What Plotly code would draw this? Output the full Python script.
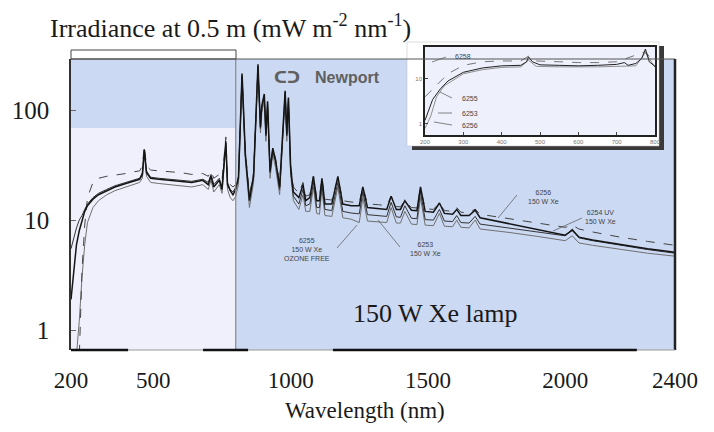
import math
import plotly.graph_objects as go

# ---------------- data ----------------
wavelength_nm = [200, 210, 220, 230, 240, 250, 260, 280, 300, 330,
                 360, 400, 430, 450, 460, 467, 475, 490, 520, 560,
                 600, 640, 680, 700, 710, 720, 740, 750, 764, 770,
                 780, 790, 800, 810, 823, 835, 850, 865, 881, 890,
                 895, 904, 910, 916, 925, 935, 945, 960, 980, 986,
                 992, 1000, 1010, 1030, 1045, 1055, 1070, 1083, 1095, 1105,
                 1114, 1125, 1150, 1172, 1190, 1220, 1250, 1263, 1280, 1320,
                 1350, 1366, 1385, 1400, 1416, 1440, 1460, 1473, 1490, 1520,
                 1542, 1560, 1590, 1605, 1620, 1650, 1672, 1690, 1730, 1800,
                 1900, 2000, 2026, 2050, 2100, 2200, 2300, 2400]

irr_6253 = [1.9, 3.5, 6, 8, 10, 12, 13.5, 15.5, 17, 18.5,
            20, 21.5, 22.5, 23.5, 26, 44, 27, 24, 23.5, 23,
            22.5, 22, 23, 21, 25, 20, 23, 19, 52, 21,
            18.5, 17, 19, 24, 215, 40, 15, 25, 260, 70,
            110, 140, 60, 120, 28, 45, 35, 20, 150, 60,
            130, 30, 18, 16, 21, 15, 16, 25, 15, 15,
            24, 14, 14, 25, 14, 13.5, 13.5, 20, 13, 12.8,
            12.5, 16.5, 12.5, 12.5, 15, 12.3, 12.2, 20, 12, 11.8,
            14.3, 11.5, 11.3, 12.5, 11, 11, 12.3, 10.5, 10, 9.2,
            8.2, 7.3, 8.1, 7, 6.6, 6, 5.5, 5.1]

irr_6256 = [0.2, 0.25, 0.35, 0.55, 3.5, 9, 16, 22, 24, 25,
            25.5, 26.5, 27.5, 28, 31, 47, 31, 28.5, 28, 27.5,
            27, 26, 26.5, 25, 28, 24, 26, 23, 57, 24,
            21, 20, 21, 26, 200, 42, 17, 27, 240, 75,
            105, 130, 62, 110, 30, 45, 36, 22, 140, 62,
            120, 32, 20, 17.5, 22, 16.5, 17, 25, 16, 16,
            24, 15.5, 15.2, 24, 15, 14.6, 14.4, 20, 14, 13.8,
            13.5, 16.5, 13.3, 13.2, 15, 13, 12.9, 19.5, 12.7, 12.5,
            14.3, 12.2, 12, 13, 11.8, 11.6, 12.6, 11.3, 10.9, 10.3,
            9.4, 8.6, 9, 8.3, 7.8, 7, 6.4, 5.9]

irr_6255 = [0.3, 0.4, 0.6, 1.2, 3, 6, 9.5, 13, 15, 17,
            18.5, 20, 21, 22, 24, 40, 25, 22, 21.5, 21,
            20.5, 20, 21, 19, 23, 18, 21, 17.5, 47, 19,
            16, 15, 16.5, 21, 190, 35, 13, 22, 230, 62,
            95, 120, 52, 105, 24, 40, 30, 17, 130, 52,
            112, 26, 15, 12.5, 17, 12, 12, 20, 11.5, 11.3,
            19, 11, 10.8, 20, 10.5, 10.2, 9.5, 16, 9.8, 9.6,
            9.5, 13, 9.4, 9.4, 12, 9.2, 9.1, 16, 9, 8.9,
            11.5, 8.8, 8.7, 10, 8.6, 8.5, 10, 8.3, 8.1, 7.7,
            7.1, 6.5, 7.2, 6.2, 5.9, 5.4, 5.0, 4.7]

irr_6254uv = [5.5, 7, 8.5, 10, 11, 12.5, 14, 16, 17.5, 19,
              20.5, 22, 23, 24, 27, 42, 28, 24.5, 24, 23.5,
              23, 22.5, 23.5, 22, 26, 21, 24, 20, 50, 22,
              19, 18, 20, 25, 205, 38, 16, 26, 250, 68,
              105, 135, 58, 115, 27, 43, 34, 19, 145, 58,
              125, 28, 16.5, 14, 19, 13.5, 14, 22, 13, 13,
              21, 12.5, 12.2, 22, 12, 11.6, 11.4, 18, 11.2, 11,
              10.8, 14.5, 10.7, 10.6, 13.5, 10.4, 10.3, 18, 10.1, 10,
              12.5, 9.8, 9.7, 11, 9.5, 9.4, 10.8, 9.2, 8.9, 8.4,
              7.8, 7.2, 8.3, 6.9, 6.5, 5.9, 5.4, 5.0]

# inset (UV-visible close-up)
inset_wl_a = [200, 210, 220, 240, 260, 300, 350, 400, 450, 465, 470, 480, 500,
              550, 600, 650, 700, 720, 730, 750, 765, 775, 785, 800]
inset_irr_a = [1.2, 2, 3.5, 6, 9, 14, 17.5, 19.5, 20, 24, 31, 24, 20.5,
               20, 19.5, 20, 21, 23, 20, 22, 28, 46, 24, 19]
inset_wl_b = [200, 220, 240, 260, 300, 350, 400, 450, 470, 490, 550, 600, 650,
              700, 775, 800]
inset_irr_b = [4, 6, 9, 13, 20, 24, 25, 25, 32, 25, 24, 23, 23, 24, 40, 22]
inset_wl_c = [200, 215, 230, 250, 300, 350, 400, 450, 470, 490, 550, 650, 750,
              775, 800]
inset_irr_c = [0.8, 1.5, 4, 7, 13, 16, 18, 18.5, 26, 19, 18.5, 18.5, 19.5, 38, 18]

x_tick_values = [200, 500, 1000, 1500, 2000, 2400]
y_tick_values = [1, 10, 100]
inset_x_ticks = [200, 300, 400, 500, 600, 700, 800]
inset_y_ticks = [1, 10]

for s in (irr_6253, irr_6256, irr_6255, irr_6254uv):
    assert len(s) == len(wavelength_nm)

# ---------------- layout helpers (pixel -> paper) ----------------
L, R, T, B = 71, 675, 40, 350


def px(x):
    return (x - L) / (R - L)


def py(y):
    return (B - y) / (B - T)


SERIF = "Liberation Serif, Times New Roman, serif"
SANS = "Liberation Sans, Arial, sans-serif"

fig = go.Figure()

fig.add_trace(go.Scatter(x=wavelength_nm, y=irr_6255, mode="lines",
                         line=dict(color="#707070", width=1), name="6255"))
fig.add_trace(go.Scatter(x=wavelength_nm, y=irr_6254uv, mode="lines",
                         line=dict(color="#333333", width=1), name="6254 UV"))
fig.add_trace(go.Scatter(x=wavelength_nm, y=irr_6256, mode="lines",
                         line=dict(color="#444444", width=1, dash="dash"), name="6256"))
fig.add_trace(go.Scatter(x=wavelength_nm, y=irr_6253, mode="lines",
                         line=dict(color="#151515", width=1.5), name="6253"))

fig.add_trace(go.Scatter(x=inset_wl_c, y=inset_irr_c, mode="lines", xaxis="x2", yaxis="y2",
                         line=dict(color="#777777", width=0.8)))
fig.add_trace(go.Scatter(x=inset_wl_b, y=inset_irr_b, mode="lines", xaxis="x2", yaxis="y2",
                         line=dict(color="#555555", width=0.8, dash="dash")))
fig.add_trace(go.Scatter(x=inset_wl_a, y=inset_irr_a, mode="lines", xaxis="x2", yaxis="y2",
                         line=dict(color="#222222", width=1)))

shapes = [
    # main panel background (blue)
    dict(type="rect", xref="paper", yref="paper", x0=0, x1=1, y0=0, y1=py(59),
         fillcolor="#cbd9f3", line=dict(width=0), layer="below"),
    # pale UV-vis area
    dict(type="rect", xref="x", yref="paper", x0=200, x1=800, y0=0, y1=py(128),
         fillcolor="#eff0fc", line=dict(width=0), layer="below"),
    # separator
    dict(type="line", xref="x", yref="paper", x0=800, x1=800, y0=0, y1=py(59),
         line=dict(color="#8a8a8a", width=1.2)),
    # small white box above the panel
    dict(type="rect", xref="paper", yref="paper", x0=0, x1=px(236), y0=py(59), y1=py(50),
         fillcolor="white", line=dict(color="#444", width=1)),
    # top border
    dict(type="line", xref="paper", yref="paper", x0=0, x1=1, y0=py(59), y1=py(59),
         line=dict(color="#555", width=1)),
    # right border
    dict(type="line", xref="paper", yref="paper", x0=1, x1=1, y0=0, y1=py(59),
         line=dict(color="#222", width=2.5)),
    # bottom base line
    dict(type="line", xref="paper", yref="paper", x0=0, x1=1, y0=0, y1=0,
         line=dict(color="#999", width=1)),
    # inset shadow, white card, plot bg
    dict(type="rect", xref="paper", yref="paper", x0=px(412), x1=px(664), y0=py(150), y1=py(46),
         fillcolor="#3a3a3a", line=dict(width=0), layer="below"),
    dict(type="rect", xref="paper", yref="paper", x0=px(407), x1=px(659), y0=py(146), y1=py(42),
         fillcolor="white", line=dict(color="#bbb", width=0.5), layer="below"),
    dict(type="rect", xref="paper", yref="paper", x0=px(425), x1=px(655), y0=py(135), y1=py(47),
         fillcolor="#eef0fb", line=dict(width=0), layer="below"),
]
for a, b in [(200, 408), (681, 845), (1154, 2261)]:
    shapes.append(dict(type="line", xref="x", yref="paper", x0=a, x1=b, y0=0, y1=0,
                       line=dict(color="#111", width=2.5)))

# leader lines for curve labels (pixel positions)
for (x0, y0, x1, y1) in [(337, 248, 357, 225), (400, 247, 378, 220),
                         (517, 195, 498, 218), (582, 218, 553, 231),
                         (446, 57, 432, 62), (452, 98, 440, 92),
                         (452, 113, 438, 113), (452, 125, 434, 122)]:
    shapes.append(dict(type="line", xref="paper", yref="paper",
                       x0=px(x0), y0=py(y0), x1=px(x1), y1=py(y1),
                       line=dict(color="#555", width=0.7)))

annotations = [
    dict(text="Irradiance at 0.5 m (mW m<sup>-2</sup> nm<sup>-1</sup>)", xref="paper", yref="paper",
         x=px(48), y=py(27), xanchor="left", yanchor="middle", showarrow=False,
         font=dict(family=SERIF, size=26, color="#1a1a1a")),
    dict(text="Wavelength (nm)", xref="paper", yref="paper",
         x=px(365), y=py(410), xanchor="center", yanchor="middle", showarrow=False,
         font=dict(family=SERIF, size=23, color="#1a1a1a")),
    dict(text="150 W Xe lamp", xref="paper", yref="paper",
         x=px(435), y=py(313), xanchor="center", yanchor="middle", showarrow=False,
         font=dict(family=SERIF, size=26, color="#1a1a1a")),
    dict(text="<b>ᑕᑐ</b>", xref="paper", yref="paper",
         x=px(287), y=py(77), xanchor="center", yanchor="middle", showarrow=False,
         font=dict(family="DejaVu Sans", size=16, color="#606060")),
    dict(text="<b>Newport</b>", xref="paper", yref="paper",
         x=px(347), y=py(77), xanchor="center", yanchor="middle", showarrow=False,
         font=dict(family=SANS, size=16, color="#606060")),
]
small = dict(family=SANS, size=7, color="#444")
for txt, x, y in [("6255<br>150 W Xe<br>OZONE FREE", 307, 249),
                  ("6253<br>150 W Xe", 425, 249),
                  ("6256<br>150 W Xe", 543, 197),
                  ("6254 UV<br>150 W Xe", 600, 217),
                  ("6258", 463, 57), ("6255", 470, 98), ("6253", 470, 113), ("6256", 470, 125)]:
    annotations.append(dict(text=txt, xref="paper", yref="paper", x=px(x), y=py(y),
                            xanchor="center", yanchor="middle", showarrow=False, font=small))

fig.update_layout(
    width=714, height=432,
    margin=dict(l=L, r=714 - R, t=T, b=432 - B),
    paper_bgcolor="white", plot_bgcolor="rgba(0,0,0,0)",
    showlegend=False,
    xaxis=dict(domain=[0, 1], range=[200, 2400], tickvals=x_tick_values,
               ticktext=[str(v) for v in x_tick_values], showgrid=False, zeroline=False,
               showline=False, ticks="", ticklabelstandoff=14, automargin=False,
               tickfont=dict(family=SERIF, size=23, color="#1a1a1a")),
    yaxis=dict(domain=[0, py(59)], type="log", range=[math.log10(0.66), math.log10(291)],
               tickvals=y_tick_values, ticktext=[str(v) for v in y_tick_values],
               showgrid=False, zeroline=False, showline=True, linecolor="#333", linewidth=1.5,
               ticks="inside", ticklen=5, tickcolor="#666", ticklabelstandoff=15,
               automargin=False,
               tickfont=dict(family=SERIF, size=25, color="#1a1a1a")),
    xaxis2=dict(domain=[px(425), px(655)], anchor="y2", range=[200, 800],
                tickvals=inset_x_ticks, ticktext=[str(v) for v in inset_x_ticks],
                showgrid=False, zeroline=False, showline=True, mirror=True, automargin=False,
                linecolor="#222", linewidth=1.5, ticks="inside", ticklen=3, tickcolor="#444",
                tickfont=dict(family=SANS, size=6, color="#777")),
    yaxis2=dict(domain=[py(135), py(47)], anchor="x2", type="log", automargin=False,
                range=[math.log10(0.57), math.log10(51)], tickvals=inset_y_ticks,
                ticktext=[str(v) for v in inset_y_ticks], showgrid=False, zeroline=False,
                showline=True, mirror=True, linecolor="#222", linewidth=1.5,
                ticks="inside", ticklen=3, tickcolor="#444",
                tickfont=dict(family=SANS, size=6, color="#777")),
    shapes=shapes,
    annotations=annotations,
)

fig.write_html("out.html", config={"displayModeBar": False},
               post_script="document.body.style.margin='0';document.body.style.padding='0';")
